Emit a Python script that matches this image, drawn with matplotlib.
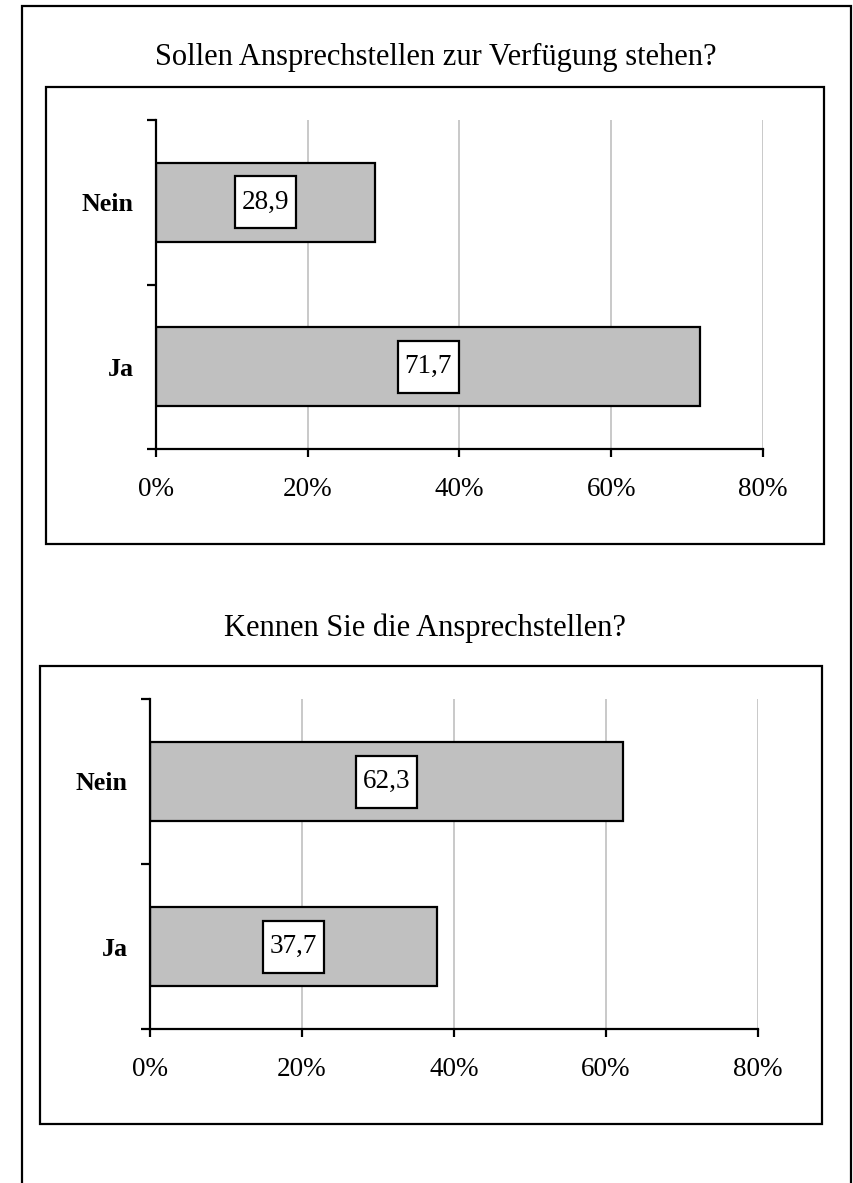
import matplotlib
matplotlib.use("Agg")
import matplotlib.pyplot as plt
from matplotlib.patches import Rectangle
from matplotlib.ticker import FixedLocator, FuncFormatter
from matplotlib.transforms import Affine2D, ScaledTranslation

plt.rcParams['font.family'] = ['Liberation Serif', 'DejaVu Serif']

# Data
categories = ["Ja", "Nein"]
title1 = "Sollen Ansprechstellen zur Verfügung stehen?"
values1 = [71.7, 28.9]
title2 = "Kennen Sie die Ansprechstellen?"
values2 = [37.7, 62.3]
xticks = [0, 20, 40, 60, 80]

W, H = 854, 1183
DPI = 100
fig = plt.figure(figsize=(W / DPI, H / DPI), dpi=DPI)
fig.patch.set_facecolor('white')


def px_rect(x0, y0, x1, y1):
    return [x0 / W, 1 - y1 / H, (x1 - x0) / W, (y1 - y0) / H]


def add_box(x0, y0, x1, y1, lw=1.6):
    fig.patches.append(Rectangle((x0 / W, 1 - y1 / H), (x1 - x0) / W, (y1 - y0) / H,
                                 transform=fig.transFigure, fill=False,
                                 edgecolor='black', linewidth=lw, zorder=0))


# outer border (bottom edge beyond the image)
add_box(22, 6, 851, 1200)
# panel boxes
add_box(46, 87, 824, 544)
add_box(40, 666, 822, 1124)

FS_TICK = 19.5
FS_CAT = 18.7
FS_LBL = 19.5
FS_TITLE = 22


def draw_panel(rect, title, title_xy, values):
    ax = fig.add_axes(px_rect(*rect))
    ax.set_facecolor('none')
    ypos = list(range(len(categories)))
    ax.barh(ypos, values, height=0.48, color='#c0c0c0', edgecolor='black',
            linewidth=1.6, zorder=3)
    for y, v in zip(ypos, values):
        # white label box, 61 x 52 px, centred on the bar middle
        tr = Affine2D() + ScaledTranslation(v / 2, y, ax.transData)
        ax.add_patch(Rectangle((-30.5, -26), 61, 52, transform=tr,
                               facecolor='white', edgecolor='black',
                               linewidth=1.6, zorder=5, clip_on=False))
        ax.text(v / 2, y, f"{v:.1f}".replace('.', ','), ha='center', va='center',
                fontsize=FS_LBL, zorder=6)
    ax.set_xlim(0, 80)
    ax.set_ylim(-0.5, len(categories) - 0.5)
    for t in xticks[1:]:
        ax.axvline(t, color='#c0c0c0', linewidth=1.2, zorder=1)
    ax.xaxis.set_major_locator(FixedLocator(xticks))
    ax.xaxis.set_major_formatter(FuncFormatter(lambda v, p: f"{int(v)}%"))
    ax.set_yticks(ypos)
    ax.set_yticklabels(categories, fontsize=FS_CAT, fontweight='bold')
    ax.yaxis.set_minor_locator(FixedLocator([-0.5 + i for i in range(len(categories) + 1)]))
    ax.tick_params(axis='y', which='major', length=0, pad=16)
    ax.tick_params(axis='y', which='minor', length=6.5, width=1.6, direction='out')
    ax.tick_params(axis='x', which='major', length=6, width=1.6, direction='out',
                   labelsize=FS_TICK, pad=14)
    for s in ['top', 'right']:
        ax.spines[s].set_visible(False)
    for s in ['left', 'bottom']:
        ax.spines[s].set_linewidth(1.6)
        ax.spines[s].set_zorder(4)
    fig.text(title_xy[0] / W, 1 - title_xy[1] / H, title, ha='center', va='center',
             fontsize=FS_TITLE)
    return ax


draw_panel((156, 120, 763, 449), title1, (436, 57), values1)
draw_panel((150, 699, 758, 1029), title2, (425, 628), values2)

fig.savefig('out.png', dpi=DPI, facecolor='white')
